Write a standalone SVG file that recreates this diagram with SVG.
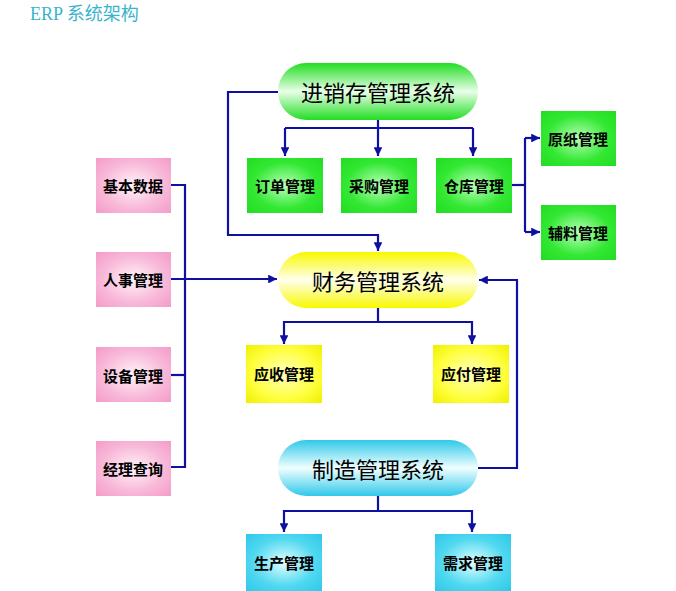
<svg xmlns="http://www.w3.org/2000/svg" width="676" height="591" viewBox="0 0 676 591">
<defs>
<radialGradient id="gG" cx="50%" cy="50%" r="70%"><stop offset="0" stop-color="#b8ffb8"/><stop offset="0.6" stop-color="#33e833"/><stop offset="1" stop-color="#22dd22"/></radialGradient>
<radialGradient id="gP" cx="50%" cy="50%" r="70%"><stop offset="0" stop-color="#fff4f9"/><stop offset="0.6" stop-color="#f8b8d8"/><stop offset="1" stop-color="#f49cc8"/></radialGradient>
<radialGradient id="gY" cx="50%" cy="50%" r="70%"><stop offset="0" stop-color="#ffffc0"/><stop offset="0.6" stop-color="#ffff40"/><stop offset="1" stop-color="#f0f000"/></radialGradient>
<radialGradient id="gC" cx="50%" cy="50%" r="70%"><stop offset="0" stop-color="#e0ffff"/><stop offset="0.6" stop-color="#50d8f0"/><stop offset="1" stop-color="#30c8ea"/></radialGradient>
<linearGradient id="pG" x1="0" y1="0" x2="0" y2="1"><stop offset="0" stop-color="#22dd22"/><stop offset="0.5" stop-color="#eaffea"/><stop offset="1" stop-color="#22dd22"/></linearGradient>
<linearGradient id="pY" x1="0" y1="0" x2="0" y2="1"><stop offset="0" stop-color="#f8f800"/><stop offset="0.5" stop-color="#ffffee"/><stop offset="1" stop-color="#f8f800"/></linearGradient>
<linearGradient id="pC" x1="0" y1="0" x2="0" y2="1"><stop offset="0" stop-color="#30c8ea"/><stop offset="0.5" stop-color="#f0ffff"/><stop offset="1" stop-color="#30c8ea"/></linearGradient>
<marker id="ar" viewBox="0 0 10 10" refX="10" refY="5" markerWidth="4" markerHeight="4" orient="auto"><path d="M0,0L10,5L0,10z" fill="#1010a0"/></marker>
</defs>
<style>
text{font-family:"Noto Sans CJK SC","Liberation Serif",serif;text-anchor:middle;dominant-baseline:central;fill:#000}
.b{font-size:15px;font-weight:bold}
.p{font-size:22px}
.c path{fill:none;stroke:#1010a0;stroke-width:2.2}
</style>
<text x="30" y="14" style="text-anchor:start;font-size:18px;fill:#3ab4cc;font-family:'Liberation Serif','Noto Sans CJK SC',serif">ERP 系统架构</text>
<g class="c">
<path d="M278,92H228V235H378V251" marker-end="url(#ar)"/>
<path d="M378,120V128"/>
<path d="M285,128H473"/>
<path d="M285,128V156" marker-end="url(#ar)"/>
<path d="M378,128V156" marker-end="url(#ar)"/>
<path d="M473,128V156" marker-end="url(#ar)"/>
<path d="M512,185H525"/>
<path d="M525,138V232"/>
<path d="M525,138H540" marker-end="url(#ar)"/>
<path d="M525,232H540" marker-end="url(#ar)"/>
<path d="M171,185H185V467H171"/>
<path d="M171,375H185"/>
<path d="M171,279H277" marker-end="url(#ar)"/>
<path d="M378,308V322H284V344" marker-end="url(#ar)"/>
<path d="M378,322H472V344" marker-end="url(#ar)"/>
<path d="M478,468H517V280H479" marker-end="url(#ar)"/>
<path d="M378,496V511H284V532" marker-end="url(#ar)"/>
<path d="M378,511H472V532" marker-end="url(#ar)"/>
</g>
<g id="jxc"><rect x="278" y="63" width="200" height="57" rx="28" fill="url(#pG)"/><text class="p" x="378" y="91">进销存管理系统</text></g>
<g id="dd"><rect x="247" y="158" width="76" height="55" fill="url(#gG)"/><text class="b" x="285" y="185">订单管理</text></g>
<g id="cg"><rect x="341" y="158" width="76" height="55" fill="url(#gG)"/><text class="b" x="379" y="185">采购管理</text></g>
<g id="ck"><rect x="436" y="158" width="76" height="55" fill="url(#gG)"/><text class="b" x="474" y="185">仓库管理</text></g>
<g id="yz"><rect x="541" y="111" width="75" height="55" fill="url(#gG)"/><text class="b" x="578" y="138">原纸管理</text></g>
<g id="fl"><rect x="541" y="205" width="75" height="55" fill="url(#gG)"/><text class="b" x="578" y="232">辅料管理</text></g>
<g id="jb"><rect x="96" y="158" width="75" height="55" fill="url(#gP)"/><text class="b" x="133" y="185">基本数据</text></g>
<g id="rs"><rect x="96" y="252" width="75" height="55" fill="url(#gP)"/><text class="b" x="133" y="279">人事管理</text></g>
<g id="sb"><rect x="96" y="347" width="75" height="55" fill="url(#gP)"/><text class="b" x="133" y="375">设备管理</text></g>
<g id="jl"><rect x="96" y="441" width="75" height="55" fill="url(#gP)"/><text class="b" x="133" y="468">经理查询</text></g>
<g id="cw"><rect x="278" y="252" width="200" height="56" rx="28" fill="url(#pY)"/><text class="p" x="378" y="280">财务管理系统</text></g>
<g id="ys"><rect x="246" y="345" width="76" height="58" fill="url(#gY)"/><text class="b" x="284" y="373">应收管理</text></g>
<g id="yf"><rect x="433" y="345" width="76" height="58" fill="url(#gY)"/><text class="b" x="471" y="373">应付管理</text></g>
<g id="zz"><rect x="278" y="440" width="200" height="56" rx="28" fill="url(#pC)"/><text class="p" x="378" y="468">制造管理系统</text></g>
<g id="sc"><rect x="246" y="534" width="76" height="57" fill="url(#gC)"/><text class="b" x="284" y="562">生产管理</text></g>
<g id="xq"><rect x="435" y="534" width="76" height="57" fill="url(#gC)"/><text class="b" x="473" y="562">需求管理</text></g>
</svg>
